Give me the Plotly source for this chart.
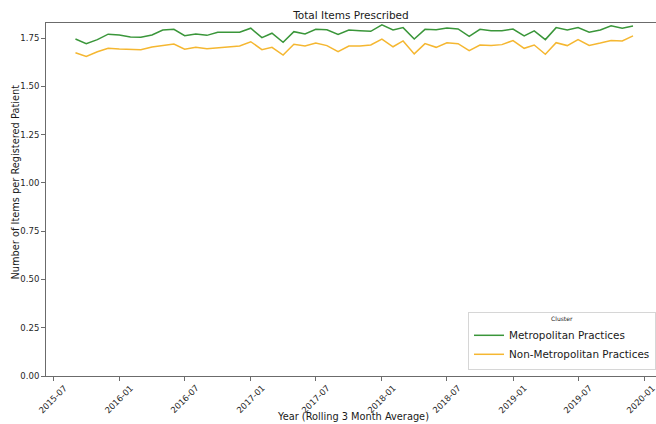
import pandas as pd
import plotly.graph_objects as go

# Monthly periods (rolling 3 month average), Sep 2015 - Dec 2019
months = pd.date_range("2015-09-01", "2019-12-01", freq="MS")

metropolitan = [
    1.745, 1.721, 1.742, 1.770, 1.766, 1.756, 1.754, 1.766, 1.792, 1.795,
    1.762, 1.771, 1.764, 1.780, 1.780, 1.780, 1.801, 1.752, 1.775, 1.728,
    1.783, 1.771, 1.795, 1.793, 1.769, 1.792, 1.788, 1.785, 1.818, 1.792,
    1.804, 1.745, 1.795, 1.793, 1.802, 1.797, 1.759, 1.795, 1.788, 1.788,
    1.797, 1.761, 1.787, 1.742, 1.804, 1.792, 1.804, 1.780, 1.792, 1.814,
    1.801, 1.812,
]

non_metropolitan = [
    1.674, 1.655, 1.679, 1.697, 1.693, 1.690, 1.690, 1.704, 1.710, 1.719,
    1.692, 1.702, 1.695, 1.700, 1.704, 1.709, 1.731, 1.690, 1.702, 1.662,
    1.718, 1.709, 1.724, 1.711, 1.679, 1.709, 1.709, 1.714, 1.745, 1.705,
    1.735, 1.668, 1.721, 1.702, 1.726, 1.721, 1.685, 1.714, 1.712, 1.716,
    1.737, 1.697, 1.714, 1.666, 1.726, 1.711, 1.742, 1.712, 1.724, 1.737,
    1.735, 1.761,
]

series_names = ["Metropolitan Practices", "Non-Metropolitan Practices"]
series_colors = ["#3a963a", "#f5b731"]

y_ticks = [0.0, 0.25, 0.5, 0.75, 1.0, 1.25, 1.5, 1.75]
x_ticks = pd.date_range("2015-07-01", "2020-01-01", freq="6MS")
x_tick_labels = [d.strftime("%Y-%m") for d in x_ticks]

font_family = "DejaVu Sans"
axis_color = "#6b6b6b"
text_color = "#1a1a1a"
tick_color = "#262626"

fig = go.Figure()
for name, values, color in zip(series_names, [metropolitan, non_metropolitan], series_colors):
    fig.add_trace(go.Scatter(
        x=months, y=values, mode="lines", name=name,
        line=dict(color=color, width=1.5),
    ))

# Rotated date labels, centred under each tick mark
date_labels = [
    dict(text=label, x=tick, xref="x", y=0, yref="paper",
         xanchor="center", yanchor="top", yshift=-4,
         xshift=-3 if i == len(x_ticks) - 1 else 0,
         textangle=-45, showarrow=False,
         font=dict(size=8.5, family=font_family, color=tick_color))
    for i, (tick, label) in enumerate(zip(x_ticks, x_tick_labels))
]

fig.update_layout(
    width=656, height=424,
    margin=dict(l=46, r=0, t=23, b=48),
    paper_bgcolor="white", plot_bgcolor="white",
    font=dict(family=font_family, color=tick_color, size=10),
    title=dict(
        text="Total Items Prescribed", x=0.535, xanchor="center",
        y=1 - 15 / 424, yanchor="middle",
        font=dict(size=10.5, family=font_family, color=text_color),
    ),
    showlegend=True,
    legend=dict(
        title=dict(text="Cluster", side="top center",
                   font=dict(size=6, family=font_family)),
        x=1.0, xanchor="right", y=0.017, yanchor="bottom",
        bgcolor="white", bordercolor="#d6d6d6", borderwidth=1,
        font=dict(size=10.4, family=font_family, color=text_color),
        tracegroupgap=0, itemwidth=30,
    ),
    annotations=date_labels + [
        dict(text="Year (Rolling 3 Month Average)", xref="paper", yref="paper",
             x=0.503, y=-40 / 353, xanchor="center", yanchor="middle",
             showarrow=False,
             font=dict(size=9.8, family=font_family, color=text_color)),
        dict(text="Number of Items per Registered Patient", xref="paper", yref="paper",
             x=0, xshift=-31, y=(376 - 282) / 353, xanchor="center", yanchor="bottom",
             textangle=-90, showarrow=False,
             font=dict(size=9.8, family=font_family, color=text_color)),
    ],
)

fig.update_xaxes(
    range=["2015-06-11", "2020-02-03"],
    tickvals=list(x_ticks),
    showticklabels=False,
    ticks="outside", ticklen=4, tickcolor=axis_color,
    showline=True, linecolor=axis_color, linewidth=1, mirror=True,
    showgrid=False, zeroline=False, automargin=False,
)

fig.update_yaxes(
    range=[0, 1.828],
    tickvals=y_ticks,
    tickformat=".2f",
    ticks="outside", ticklen=4, tickcolor=axis_color,
    showline=True, linecolor=axis_color, linewidth=1, mirror=False,
    showgrid=False, zeroline=False, automargin=False,
    tickfont=dict(size=8.5, color=tick_color),
)

fig.write_html("out.html")
